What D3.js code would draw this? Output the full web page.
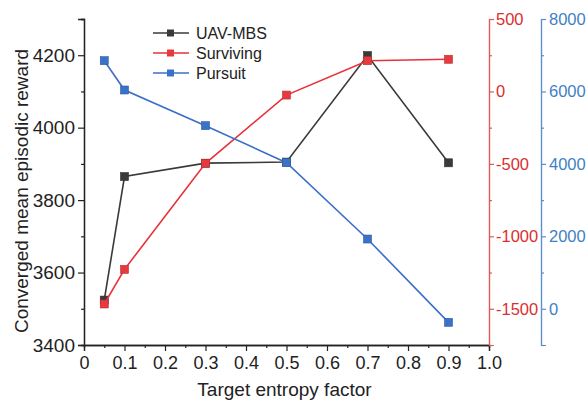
<!DOCTYPE html>
<html>
<head>
<meta charset="utf-8">
<script src="https://cdn.jsdelivr.net/npm/d3@7"></script>
<style>
  body { margin: 0; background: #fff; }
  text { font-family: "Liberation Sans", Arial, sans-serif; }
</style>
</head>
<body>
<div id="chart"></div>
<script>
// data
const factors = [0.05, 0.1, 0.3, 0.5, 0.7, 0.9];
const uavMbs = [3524, 3865, 3902, 3905, 4199, 3903];
const surviving = [-1467, -1228, -496, -25, 212, 222];
const pursuit = [6849, 6040, 5055, 4034, 1926, -374];

const xTicks = [0, 0.1, 0.2, 0.3, 0.4, 0.5, 0.6, 0.7, 0.8, 0.9, 1.0];
const leftTicks = [3400, 3600, 3800, 4000, 4200];
const redTicks = [-1500, -1000, -500, 0, 500];
const blueTicks = [0, 2000, 4000, 6000, 8000];

const width = 587, height = 404;
const plot = {left: 84, right: 489, top: 19, bottom: 345};

const svg = d3.select("#chart")
    .append("svg")
    .attr("width", width)
    .attr("height", height);

const x = d3.scaleLinear().domain([0, 1]).range([plot.left, plot.right]);
const yLeft = d3.scaleLinear().domain([3400, 4300]).range([plot.bottom, plot.top]);
const yRed = d3.scaleLinear().domain([-1750, 500]).range([plot.bottom, plot.top]);
const yBlue = d3.scaleLinear().domain([-1000, 8000]).range([plot.bottom, plot.top]);

const hy = d => String(d).replace("−", "-");

// minor ticks helper
function minorAxis(axisFn, scale, vals, size) {
    return axisFn(scale).tickValues(vals).tickSize(size).tickFormat("");
}

// bottom axis
const gx = svg.append("g").attr("transform", "translate(0," + plot.bottom + ")");
gx.call(d3.axisBottom(x).tickValues(xTicks).tickSize(6).tickPadding(5)
    .tickFormat(d => d === 0 ? "0" : d3.format(".1f")(d)));
gx.append("g").call(minorAxis(d3.axisBottom, x, d3.range(0.05, 1, 0.1), 3));
gx.selectAll("path").attr("stroke", "#222").attr("stroke-width", 1.3);
gx.selectAll("line").attr("stroke", "#222").attr("stroke-width", 1.2);
gx.selectAll("text").attr("font-size", 18).attr("fill", "#222")
    .attr("font-family", "Liberation Sans, Arial, sans-serif");

// left axis
const gl = svg.append("g").attr("transform", "translate(" + plot.left + ",0)");
gl.call(d3.axisLeft(yLeft).tickValues(leftTicks).tickSize(6).tickPadding(3).tickFormat(d => String(d)));
gl.append("g").call(minorAxis(d3.axisLeft, yLeft, [3500, 3700, 3900, 4100, 4300], 3));
gl.selectAll("path").attr("stroke", "#222").attr("stroke-width", 1.3);
gl.selectAll("line").attr("stroke", "#222").attr("stroke-width", 1.2);
gl.selectAll("text").attr("font-size", 19).attr("fill", "#222")
    .attr("font-family", "Liberation Sans, Arial, sans-serif");

// red axis
const redColor = "#d9302f";
const gr = svg.append("g").attr("transform", "translate(" + plot.right + ",0)");
gr.call(d3.axisRight(yRed).tickValues(redTicks).tickSize(5).tickPadding(2).tickFormat(hy));
gr.append("g").call(minorAxis(d3.axisRight, yRed, [-1750, -1250, -750, -250, 250], 3));
gr.selectAll("path").attr("stroke", "#e05a5a").attr("stroke-width", 1.2);
gr.selectAll("line").attr("stroke", "#e05a5a").attr("stroke-width", 1.2);
gr.selectAll("text").attr("font-size", 16.5).attr("fill", redColor)
    .attr("font-family", "Liberation Sans, Arial, sans-serif");

// blue axis
const blueColor = "#3f7fc4";
const gb = svg.append("g").attr("transform", "translate(541,0)");
gb.call(d3.axisRight(yBlue).tickValues(blueTicks).tickSize(5).tickPadding(3).tickFormat(hy));
gb.append("g").call(minorAxis(d3.axisRight, yBlue, [-1000, 1000, 3000, 5000, 7000], 3));
gb.selectAll("path").attr("stroke", "#5a8fcc").attr("stroke-width", 1.2);
gb.selectAll("line").attr("stroke", "#5a8fcc").attr("stroke-width", 1.2);
gb.selectAll("text").attr("font-size", 16.5).attr("fill", blueColor)
    .attr("font-family", "Liberation Sans, Arial, sans-serif");

// axis titles
svg.append("text")
    .attr("x", (plot.left + plot.right) / 2 - 2)
    .attr("y", 396)
    .attr("text-anchor", "middle")
    .attr("font-size", 19)
    .attr("fill", "#222")
    .text("Target entropy factor");

svg.append("text")
    .attr("transform", "translate(28," + ((plot.top + plot.bottom) / 2 + 9) + ") rotate(-90)")
    .attr("text-anchor", "middle")
    .attr("font-size", 19)
    .attr("fill", "#222")
    .text("Converged mean episodic reward");

// series
const series = [
    {name: "UAV-MBS", values: uavMbs, y: yLeft, color: "#3a3a3a", fill: "#3a3a3a"},
    {name: "Surviving", values: surviving, y: yRed, color: "#e8313a", fill: "#e63a3f"},
    {name: "Pursuit", values: pursuit, y: yBlue, color: "#3a6fc8", fill: "#3a72c8"}
];

series.forEach(s => {
    const line = d3.line()
        .x((d, i) => x(factors[i]))
        .y(d => s.y(d));
    svg.append("path")
        .datum(s.values)
        .attr("fill", "none")
        .attr("stroke", s.color)
        .attr("stroke-width", 1.6)
        .attr("d", line);
    svg.selectAll(null)
        .data(s.values)
        .enter().append("rect")
        .attr("x", (d, i) => x(factors[i]) - 4)
        .attr("y", d => s.y(d) - 4)
        .attr("width", 8)
        .attr("height", 8)
        .attr("fill", s.fill)
        .attr("stroke", d3.color(s.fill).darker(0.6))
        .attr("stroke-width", 0.6);
});

// legend
const legend = svg.append("g").attr("transform", "translate(153,33)");
series.forEach((s, i) => {
    const g = legend.append("g").attr("transform", "translate(0," + (i * 20) + ")");
    g.append("line")
        .attr("x1", 0).attr("x2", 36)
        .attr("stroke", s.color).attr("stroke-width", 1.6);
    g.append("rect")
        .attr("x", 14).attr("y", -3.5).attr("width", 7).attr("height", 7)
        .attr("fill", s.fill);
    g.append("text")
        .attr("x", 43).attr("y", 6)
        .attr("font-size", 16)
        .attr("fill", "#222")
        .text(s.name);
});
</script>
</body>
</html>
